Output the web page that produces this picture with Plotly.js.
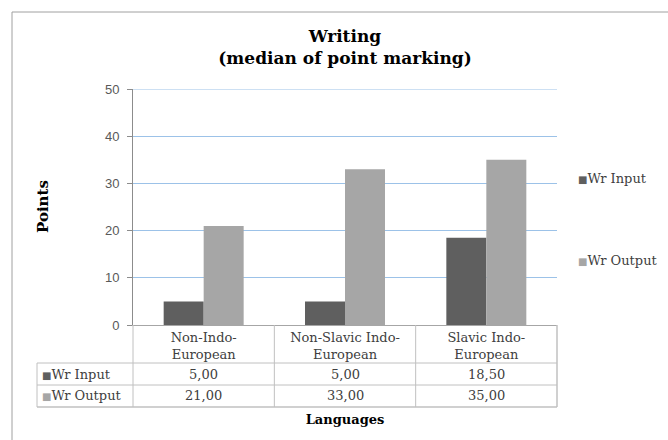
<!DOCTYPE html>
<html>
<head>
<meta charset="utf-8">
<script src="https://cdn.plot.ly/plotly-3.0.1.min.js"></script>
<style>html,body{margin:0;padding:0;background:#fff;}#chart{width:668px;height:440px;}</style>
</head>
<body>
<div id="chart"></div>
<script>
// ---- data ----
const categories = ['Non-Indo-European', 'Non-Slavic Indo-European', 'Slavic Indo-European'];
const categoryLabels = ['Non-Indo-<br>European', 'Non-Slavic Indo-<br>European', 'Slavic Indo-<br>European'];
const seriesNames = ['Wr Input', 'Wr Output'];
const wrInput = [5.00, 5.00, 18.50];
const wrOutput = [21.00, 33.00, 35.00];
const yTickValues = [0, 10, 20, 30, 40, 50];

// ---- styling ----
const seriesColors = ['#5f5f5f', '#a6a6a6'];
const serif = 'DejaVu Serif, Liberation Serif, serif';
const sans = 'Liberation Sans, Arial, sans-serif';
const seriesValues = [wrInput, wrOutput];
const gridBlue = '#9cc2e8';

// pixel helpers (plot area: x 133..557, y 89..325)
const L = 133, R = 557, T = 89, B = 325;
const px = x => (x - L) / (R - L);
const py = y => (B - y) / (B - T);

const traces = seriesNames.map((name, i) => ({
  type: 'bar',
  name: name,
  x: categories,
  y: seriesValues[i],
  marker: {color: seriesColors[i], line: {width: 0}},
  showlegend: false,
  hoverinfo: 'x+y+name'
}));

const fmt = v => v.toFixed(2).replace('.', ',');
const annotations = [];
const rowCenters = [374, 396];
seriesNames.forEach((name, i) => {
  annotations.push({
    xref: 'paper', yref: 'paper', x: px(40), y: py(rowCenters[i]),
    xanchor: 'left', yanchor: 'middle', showarrow: false,
    text: '<span style="color:' + seriesColors[i] + ';font-size:10px">■</span>' + name,
    font: {family: serif, size: 13, color: '#404040'}
  });
  categories.forEach((c, j) => {
    annotations.push({
      xref: 'x', yref: 'paper', x: c, y: py(rowCenters[i]),
      xanchor: 'center', yanchor: 'middle', showarrow: false,
      text: fmt(seriesValues[i][j]),
      font: {family: serif, size: 13, color: '#404040'}
    });
  });
  // legend entries
  const legY = [178, 260][i];
  annotations.push({
    xref: 'paper', yref: 'paper', x: px(576), y: py(legY),
    xanchor: 'left', yanchor: 'middle', showarrow: false,
    text: '<span style="color:' + seriesColors[i] + ';font-size:10px">■</span>' + name,
    font: {family: serif, size: 13, color: '#404040'}
  });
});
annotations.push({
  xref: 'paper', yref: 'paper', x: px(43), y: py(207),
  xanchor: 'center', yanchor: 'middle', showarrow: false, textangle: -90,
  text: '<b>Points</b>', font: {family: serif, size: 15, color: '#000'}
});

const gridColor = '#c0c0c0';
const shapes = [
  // outer chart border
  {type: 'line', xref: 'paper', yref: 'paper', x0: px(12), x1: px(700), y0: py(12), y1: py(12), line: {color: '#a0a0a0', width: 1}},
  {type: 'line', xref: 'paper', yref: 'paper', x0: px(12), x1: px(12), y0: py(12), y1: py(460), line: {color: '#a0a0a0', width: 1}},
  // top gridline at the axis maximum
  {type: 'line', xref: 'paper', yref: 'y', x0: 0, x1: 1, y0: yTickValues[yTickValues.length - 1], y1: yTickValues[yTickValues.length - 1], line: {color: gridBlue, width: 1.2}, layer: 'below'},
  // table horizontal lines
  {type: 'line', xref: 'paper', yref: 'paper', x0: px(37), x1: 1, y0: py(363), y1: py(363), line: {color: gridColor, width: 1}},
  {type: 'line', xref: 'paper', yref: 'paper', x0: px(37), x1: 1, y0: py(385), y1: py(385), line: {color: gridColor, width: 1}},
  {type: 'line', xref: 'paper', yref: 'paper', x0: px(37), x1: 1, y0: py(407), y1: py(407), line: {color: gridColor, width: 1.5}},
  // table vertical lines
  {type: 'line', xref: 'paper', yref: 'paper', x0: px(37), x1: px(37), y0: py(363), y1: py(407), line: {color: gridColor, width: 1}},
  {type: 'line', xref: 'paper', yref: 'paper', x0: 0, x1: 0, y0: 0, y1: py(407), line: {color: gridColor, width: 1}},
  {type: 'line', xref: 'x', yref: 'paper', x0: 0.5, x1: 0.5, y0: 0, y1: py(407), line: {color: gridColor, width: 1}},
  {type: 'line', xref: 'x', yref: 'paper', x0: 1.5, x1: 1.5, y0: 0, y1: py(407), line: {color: gridColor, width: 1}},
  {type: 'line', xref: 'paper', yref: 'paper', x0: 1, x1: 1, y0: 0, y1: py(407), line: {color: gridColor, width: 1.5}}
];

const layout = {
  width: 668, height: 440,
  margin: {l: L, r: 668 - R, t: T, b: 440 - B, pad: 0},
  paper_bgcolor: '#fff', plot_bgcolor: '#fff',
  title: {
    text: '<b>Writing<br>(median of point marking)</b>',
    font: {family: serif, size: 17, color: '#000'},
    x: 0.5, xref: 'paper', xanchor: 'center',
    y: 1 - 42 / 440, yref: 'container', yanchor: 'top'
  },
  barmode: 'group', bargap: 0.434, bargroupgap: 0,
  xaxis: {
    type: 'category', range: [-0.5, 2.5],
    tickvals: categories, ticktext: categoryLabels,
    ticks: '', showgrid: false, zeroline: false,
    showline: true, linecolor: '#a6a6a6', linewidth: 1,
    tickfont: {family: serif, size: 13, color: '#404040'},
    automargin: false,
    title: {text: '<b>Languages</b>', font: {family: serif, size: 13, color: '#000'}, standoff: 54}
  },
  yaxis: {
    range: [0, 50], tickvals: yTickValues, ticktext: yTickValues.map(String),
    showgrid: true, gridcolor: gridBlue, gridwidth: 1.2,
    zeroline: false, showline: true, linecolor: '#8c8c8c', linewidth: 1,
    ticks: 'outside', ticklen: 5, tickcolor: '#8c8c8c',
    ticklabelstandoff: 5,
    tickfont: {family: sans, size: 13, color: '#595959'},
    automargin: false
  },
  showlegend: false,
  annotations: annotations,
  shapes: shapes
};

Plotly.newPlot('chart', traces, layout, {displayModeBar: false, staticPlot: true});
</script>
</body>
</html>
